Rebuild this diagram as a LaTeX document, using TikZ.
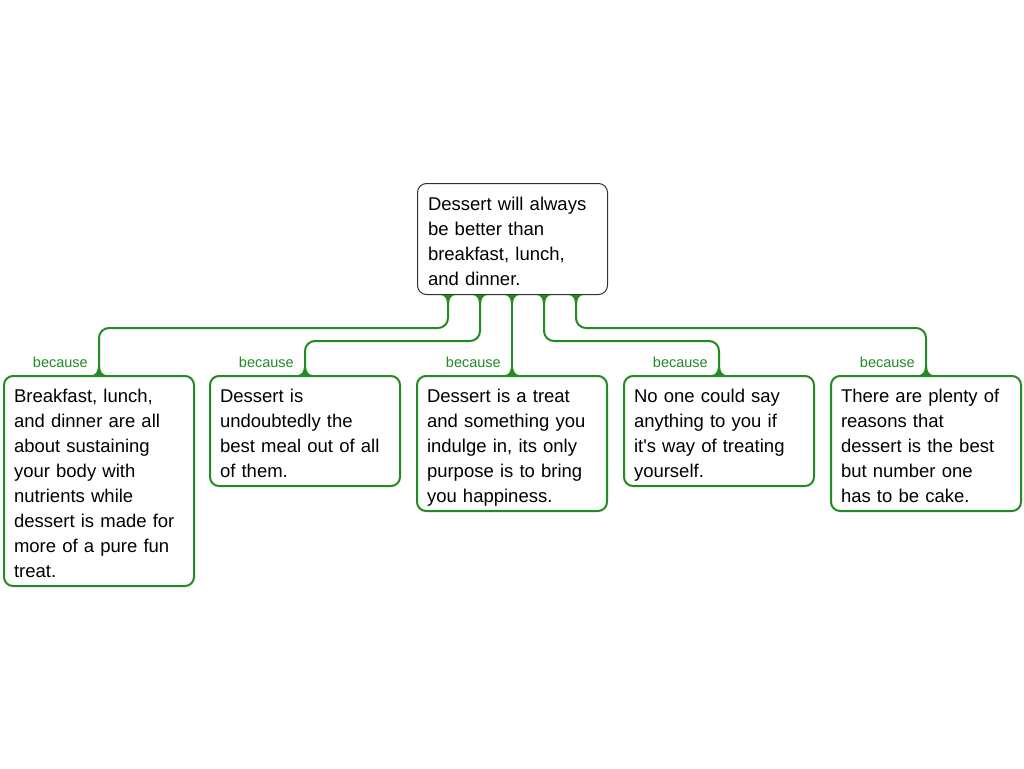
\documentclass[tikz,border=0pt]{standalone}
\usepackage{fontspec}
\setmainfont{Liberation Sans}
\definecolor{gr}{RGB}{34,139,34}
\definecolor{edge}{RGB}{50,50,50}
\newcommand\ls{\rule[-4pt]{0pt}{25pt}}
\newcommand\boxfont{\fontsize{18.5pt}{25pt}\selectfont\lineskiplimit=-100pt\relax\lineskip=0pt\relax}
\newcommand\lblfont{\fontsize{14.5pt}{16pt}\selectfont}
\newcommand\flare[2]{%
 \fill[gr] ([xshift=-7pt]#1) .. controls ([xshift=-3.6pt]#1) and ([xshift=-1pt,yshift={#2*3.8pt}]#1) .. ([xshift=-1pt,yshift={#2*8.5pt}]#1) -- ([xshift=1pt,yshift={#2*8.5pt}]#1) .. controls ([xshift=1pt,yshift={#2*3.8pt}]#1) and ([xshift=3.6pt]#1) .. ([xshift=7pt]#1) -- cycle;}
\tikzset{
  txt/.style={font=\boxfont, align=left, anchor=north west, rounded corners=9pt},
  parentbox/.style={txt, text width=169pt, inner xsep=10.5pt, inner ysep=5.5pt, draw=edge, line width=1pt, fill=white},
  childbox/.style={txt, text width=170pt, inner xsep=10pt, inner ysep=5pt, draw=gr, line width=2pt, fill=white},
  conn/.style={draw=gr, line width=2pt, rounded corners=10pt},
  lbl/.style={font=\lblfont, text=gr, anchor=base east, inner sep=0pt}
}
\begin{document}
\begin{tikzpicture}[x=1pt,y=-1pt]
\useasboundingbox[fill=white] (0,0) rectangle (1024,768);

\node[parentbox] (top) at (417,183) {\ls Dessert will always\\ \ls be better than\\ \ls breakfast, lunch,\\ \ls and dinner.};

\node[childbox] (b1) at (3,375) {\ls Breakfast, lunch,\\ \ls and dinner are all\\ \ls about sustaining\\ \ls your body with\\ \ls nutrients while\\ \ls dessert is made for\\ \ls more of a pure fun\\ \ls treat.};
\node[childbox] (b2) at (209,375) {\ls Dessert is\\ \ls undoubtedly the\\ \ls best meal out of all\\ \ls of them.};
\node[childbox] (b3) at (416,375) {\ls Dessert is a treat\\ \ls and something you\\ \ls indulge in, its only\\ \ls purpose is to bring\\ \ls you happiness.};
\node[childbox] (b4) at (623,375) {\ls No one could say\\ \ls anything to you if\\ \ls it\textquotesingle s way of treating\\ \ls yourself.};
\node[childbox] (b5) at (830,375) {\ls There are plenty of\\ \ls reasons that\\ \ls dessert is the best\\ \ls but number one\\ \ls has to be cake.};

\coordinate (s3) at ([xshift=-0.5pt]top.south);
\coordinate (s1) at ([xshift=-64pt]s3);
\coordinate (s2) at ([xshift=-32pt]s3);
\coordinate (s4) at ([xshift=32pt]s3);
\coordinate (s5) at ([xshift=64pt]s3);

\draw[conn] (s1) |- ([yshift=47pt]b1.north) -- (b1.north);
\draw[conn] (s2) |- ([yshift=34pt]b2.north) -- (b2.north);
\draw[conn] (s3) -- (s3 |- b3.north);
\draw[conn] (s4) |- ([yshift=34pt]b4.north) -- (b4.north);
\draw[conn] (s5) |- ([yshift=47pt]b5.north) -- (b5.north);

\foreach \s in {s1,s2,s3,s4,s5} {\flare{\s}{-1}}
\foreach \b in {b1,b2,b4,b5} {\flare{\b.north}{1}}
\coordinate (t3) at (s3 |- b3.north);
\flare{t3}{1}

\node[lbl] (l1) at ([xshift=-11pt,yshift=8pt]b1.north) {because};
\node[lbl] (l2) at ([xshift=-11pt,yshift=8pt]b2.north) {because};
\node[lbl] (l3) at ([xshift=-11pt,yshift=8pt]b3.north) {because};
\node[lbl] (l4) at ([xshift=-11pt,yshift=8pt]b4.north) {because};
\node[lbl] (l5) at ([xshift=-11pt,yshift=8pt]b5.north) {because};
\end{tikzpicture}
\end{document}
